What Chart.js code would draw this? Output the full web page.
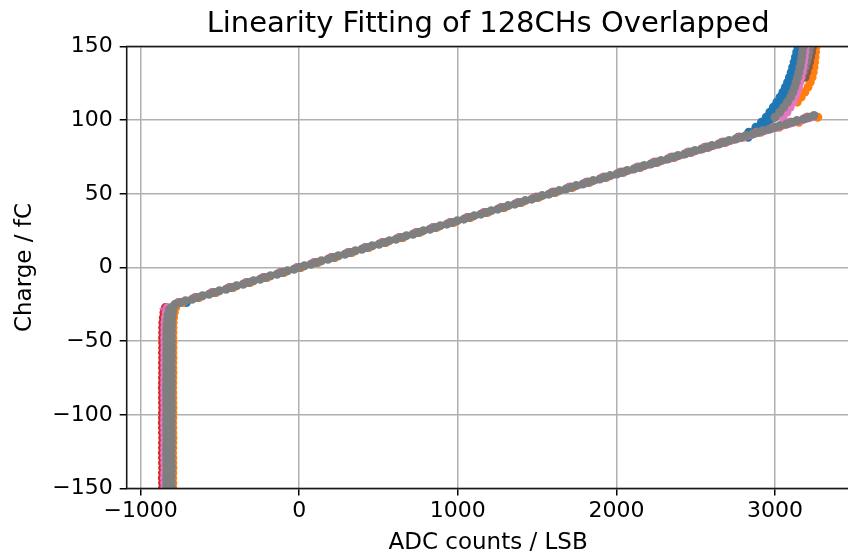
<!DOCTYPE html>
<html>
<head>
<meta charset="utf-8">
<script src="https://cdn.jsdelivr.net/npm/chart.js@4.4.0/dist/chart.umd.min.js"></script>
<style>
html, body { margin: 0; padding: 0; background: #fff; overflow: hidden; width: 848px; height: 554px; }
canvas { display: block; }
</style>
</head>
<body>
<canvas id="c" width="856" height="560"></canvas>
<script>
// Injected charge (fC) along the main sweep, nominal calibration
const charge = [-149.6,-146.2,-142.8,-139.4,-136,-132.6,-129.2,-125.8,-122.4,-119,
  -115.6,-112.2,-108.8,-105.4,-102,-98.6,-95.2,-91.8,-88.4,-85,
  -81.6,-78.2,-74.8,-71.4,-68,-64.6,-61.2,-57.8,-54.4,-51,
  -47.6,-44.2,-40.8,-37.4,-34,-30.6,-27.2,-23.8,-20.4,-17,
  -13.6,-10.2,-6.8,-3.4,0,3.4,6.8,10.2,13.6,17,
  20.4,23.8,27.2,30.6,34,37.4,40.8,44.2,47.6,51,
  54.4,57.8,61.2,64.6,68,71.4,74.8,78.2,81.6,85,
  88.4,91.8,95.2,98.6,102];
// Injected charge (fC) for channels with a higher injection calibration
const chargeUp = [-148.4,-145,-141.6,-138.2,-134.8,-131.4,-128,-124.6,-121.2,-117.8,
  -114.4,-111,-107.6,-104.2,-100.8,-97.4,-94,-90.6,-87.2,-83.8,
  -80.4,-77,-73.6,-70.2,-66.8,-63.4,-60,-56.6,-53.2,-49.8,
  -46.4,-43,-39.6,-36.2,-32.8,-29.4,-26,-22.6,-19.2,-15.8,
  -12.4,-9,-5.6,-2.2,1.2,4.6,8,11.4,14.8,18.2,
  21.6,25,28.4,31.8,35.2,38.6,42,45.4,48.8,52.2,
  55.6,59,62.4,65.8,69.2,72.6,76,79.4,82.8,86.2,
  89.6,93,96.4,99.8,103.2];
// Injected charge (fC) for channels with a lower injection calibration
const chargeDown = [-150.8,-147.4,-144,-140.6,-137.2,-133.8,-130.4,-127,-123.6,-120.2,
  -116.8,-113.4,-110,-106.6,-103.2,-99.8,-96.4,-93,-89.6,-86.2,
  -82.8,-79.4,-76,-72.6,-69.2,-65.8,-62.4,-59,-55.6,-52.2,
  -48.8,-45.4,-42,-38.6,-35.2,-31.8,-28.4,-25,-21.6,-18.2,
  -14.8,-11.4,-8,-4.6,-1.2,2.2,5.6,9,12.4,15.8,
  19.2,22.6,26,29.4,32.8,36.2,39.6,43,46.4,49.8,
  53.2,56.6,60,63.4,66.8,70.2,73.6,77,80.4,83.8,
  87.2,90.6,94,97.4,100.8];
// Injected charge (fC) on the high-charge branch
const chargeHigh = [88.4,91.8,95.2,98.6,102,105.4,108.8,112.2,115.6,119,
  122.4,125.8,129.2,132.6,136,139.4,142.8,146.2,149.6,153];

// ADC readings (LSB) per channel along the sweep
const adcGrayA = [-822,-822,-823,-822,-821,-822,-822,-823,-822,-822,
  -821,-822,-822,-823,-822,-822,-821,-822,-822,-822,
  -823,-822,-822,-821,-822,-822,-821,-822,-821,-821,
  -822,-821,-821,-820,-817,-813,-804,-750,-643,-536,
  -428,-321,-214,-107,0,107,214,321,428,536,
  643,750,857,964,1071,1178,1285,1392,1499,1607,
  1714,1821,1928,2035,2142,2249,2356,2463,2570,2678,
  2785,2892,2999,3106,3213];
const adcGrayB = [-806,-807,-806,-806,-805,-806,-807,-806,-806,-805,
  -806,-806,-807,-806,-806,-805,-806,-806,-807,-806,
  -806,-805,-806,-806,-807,-806,-805,-806,-805,-805,
  -806,-805,-805,-804,-801,-797,-788,-717,-610,-503,
  -395,-288,-181,-74,33,140,247,354,461,569,
  676,783,890,997,1104,1211,1318,1425,1532,1640,
  1747,1854,1961,2068,2175,2282,2389,2496,2603,2711,
  2818,2925,3032,3139,3246];
const adcGrayC = [-836,-836,-837,-836,-835,-836,-836,-837,-836,-836,
  -835,-836,-836,-837,-836,-836,-835,-836,-836,-836,
  -837,-836,-836,-835,-836,-836,-835,-836,-835,-835,
  -836,-835,-835,-834,-831,-827,-818,-783,-676,-569,
  -461,-354,-247,-140,-33,74,181,288,395,503,
  610,717,824,931,1038,1145,1252,1359,1466,1574,
  1681,1788,1895,2002,2109,2216,2323,2430,2537,2645,
  2752,2859,2966,3073,3180];
const adcPink = [-849,-849,-850,-849,-848,-849,-849,-850,-849,-849,
  -848,-849,-849,-850,-849,-849,-848,-849,-849,-849,
  -850,-849,-849,-848,-849,-849,-848,-849,-848,-848,
  -849,-848,-848,-847,-844,-840,-831,-758,-651,-544,
  -436,-329,-222,-115,-8,99,206,313,420,528,
  635,742,849,956,1063,1170,1277,1384,1491,1599,
  1706,1813,1920,2027,2134,2241,2348,2455,2562,2670,
  2777,2884,2991,3098,3205];
const adcRed = [-862,-862,-863,-862,-861,-862,-862,-863,-862,-862,
  -861,-862,-862,-863,-862,-862,-861,-862,-862,-862,
  -863,-862,-862,-861,-862,-862,-861,-862,-861,-861,
  -862,-861,-861,-860,-857,-853,-844,-762,-655,-548,
  -440,-333,-226,-119,-12,95,202,309,416,524,
  631,738,845,952,1059,1166,1273,1380,1487,1595,
  1702,1809,1916,2023,2130,2237,2344,2451,2558,2666,
  2773,2880,2987,3094,3201];
const adcOrange = [-797,-797,-798,-797,-796,-797,-797,-798,-797,-797,
  -796,-797,-797,-798,-797,-797,-796,-797,-797,-797,
  -798,-797,-797,-796,-797,-797,-796,-797,-796,-796,
  -797,-796,-796,-795,-792,-788,-779,-738,-631,-524,
  -416,-309,-202,-95,12,119,226,333,440,548,
  655,762,869,976,1083,1190,1297,1404,1511,1619,
  1726,1833,1940,2047,2154,2261,2368,2475,2582,2690,
  2800,2910,3025,3150,3270];
const adcBlue = [-818,-818,-819,-818,-817,-818,-818,-819,-818,-818,
  -817,-818,-818,-819,-818,-818,-817,-818,-818,-818,
  -819,-818,-818,-817,-818,-818,-817,-818,-817,-817,
  -818,-817,-817,-816,-813,-809,-800,-712,-639,-532,
  -424,-317,-210,-103,4,111,218,325,432,540,
  647,754,861,968,1075,1182,1289,1396,1503,1611,
  1718,1825,1932,2039,2146,2253,2360,2467,2574,2682,
  null,null,null,null,null];

// ADC readings (LSB) on the high-charge branch
const hiBlueA  = [2770,2835,2880,2915,2945,2968,2990,3012,3032,3050,3066,3080,3092,3103,3112,3121,3129,3137,3145,3152];
const hiBlueB  = [2830,2866,2903,2940,2975,3003,3028,3050,3068,3083,3096,3107,3116,3124,3131,3137,3142,3147,3152,3156];
const hiBlueC  = [null,null,2930,2962,2992,3020,3042,3062,3078,3092,3104,3114,3123,3131,3138,3144,3149,3154,3158,3162];
const hiGrayA  = [null,null,null,null,3000,3030,3055,3078,3098,3112,3124,3134,3143,3151,3158,3164,3169,3173,3177,3180];
const hiPink   = [null,null,null,null,3050,3075,3095,3112,3126,3138,3148,3157,3164,3170,3176,3181,3185,3189,3192,3195];
const hiGrayD  = [null,null,null,null,null,null,null,null,null,null,null,3150,3165,3178,3189,3199,3207,3214,3220,3225];
const hiBrown  = [null,null,null,null,null,null,null,null,null,null,null,null,3190,3200,3210,3218,3225,3231,3236,3240];
const hiOrange = [null,null,null,null,null,null,null,3140,3165,3188,3208,3222,3234,3241,3246,3250,3253,3256,3258,3260];

// Linear fit end points
const fitAdc = [-880, 3260];
const fitCharge = [-28.4, 101.0];

// Axis ticks
const xTicks = [-1000, 0, 1000, 2000, 3000];
const yTicks = [-150, -100, -50, 0, 50, 100, 150];

const FONT = 'DejaVu Sans';
const COLORS = {
  blue: '#1f77b4', orange: '#ff7f0e', red: '#d62728', brown: '#8c564b',
  pink: '#e377c2', gray: '#7f7f7f', fit: '#d06cbf'
};

function points(low, lowCharge, high) {
  const out = [];
  if (low) low.forEach((x, i) => { if (x !== null) out.push({ x: x, y: lowCharge[i] }); });
  if (high) high.forEach((x, i) => { if (x !== null) out.push({ x: x, y: chargeHigh[i] }); });
  return out;
}

function channel(label, color, low, lowCharge, high) {
  return {
    label: label, data: points(low, lowCharge, high), showLine: false,
    pointRadius: 4.5, pointBorderWidth: 0, pointBackgroundColor: color,
    pointHoverRadius: 4.5, clip: 0
  };
}

// Earlier datasets are painted on top
const datasets = [
  channel('CH gray A', COLORS.gray, adcGrayA, charge, hiGrayA),
  channel('CH gray B', COLORS.gray, adcGrayB, chargeUp, null),
  channel('CH gray C', COLORS.gray, adcGrayC, chargeDown, null),
  {
    label: 'fit', data: fitAdc.map((x, i) => ({ x: x, y: fitCharge[i] })),
    showLine: true, borderColor: COLORS.fit, borderWidth: 2.5, pointRadius: 0, clip: 0
  },
  channel('CH pink', COLORS.pink, adcPink, charge, hiPink),
  channel('CH gray D', COLORS.gray, null, null, hiGrayD),
  channel('CH brown', COLORS.brown, null, null, hiBrown),
  channel('CH red', COLORS.red, adcRed, charge, null),
  channel('CH orange', COLORS.orange, adcOrange, charge, hiOrange),
  channel('CH blue C', COLORS.blue, null, null, hiBlueC),
  channel('CH blue B', COLORS.blue, null, null, hiBlueB),
  channel('CH blue A', COLORS.blue, adcBlue, charge, hiBlueA)
];

const fmt = v => (v < 0 ? '\u2212' + Math.abs(v) : String(v));

// Box frame around the plotting area
const frame = {
  id: 'frame',
  afterDatasetsDraw(chart) {
    const { ctx, chartArea: a } = chart;
    ctx.save();
    ctx.strokeStyle = '#1a1a1a';
    ctx.lineWidth = 1.6;
    ctx.strokeRect(a.left, a.top, a.right - a.left, a.bottom - a.top);
    ctx.restore();
  }
};

const gridOpts = { color: '#b0b0b0', lineWidth: 1.5, tickColor: '#000', tickLength: 7, tickWidth: 1.5 };

new Chart(document.getElementById('c'), {
  type: 'scatter',
  data: { datasets: datasets },
  plugins: [frame],
  options: {
    responsive: false,
    animation: false,
    devicePixelRatio: 1,
    layout: { padding: { left: 0, right: 6.5, top: 0, bottom: 0 } },
    plugins: {
      legend: { display: false },
      tooltip: { enabled: false },
      title: {
        display: true, text: 'Linearity Fitting of 128CHs Overlapped', fullSize: false,
        color: '#000', font: { family: FONT, size: 29, weight: 'normal' },
        padding: { top: 6.6, bottom: 5.1 }
      }
    },
    scales: {
      x: {
        type: 'linear', position: 'bottom', min: -1088, max: 3470,
        afterBuildTicks: s => { s.ticks = xTicks.map(v => ({ value: v })); },
        afterFit: s => { s.height = 71.5; },
        grid: gridOpts,
        border: { display: false },
        ticks: { color: '#000', font: { family: FONT, size: 22 }, padding: 3, maxRotation: 0, autoSkip: false, callback: fmt },
        title: { display: true, text: 'ADC counts / LSB', color: '#000', font: { family: FONT, size: 23 }, padding: { top: 0, bottom: 3.2 } }
      },
      y: {
        type: 'linear', position: 'left', min: -150, max: 150,
        afterBuildTicks: s => { s.ticks = yTicks.map(v => ({ value: v })); },
        afterFit: s => { s.width = 126.7; },
        grid: gridOpts,
        border: { display: false },
        ticks: { color: '#000', font: { family: FONT, size: 22 }, padding: 7, autoSkip: false, callback: fmt },
        title: { display: true, text: 'Charge / fC', color: '#000', font: { family: FONT, size: 23 }, padding: { top: 11.2, bottom: 0 } }
      }
    }
  }
});
</script>
</body>
</html>
